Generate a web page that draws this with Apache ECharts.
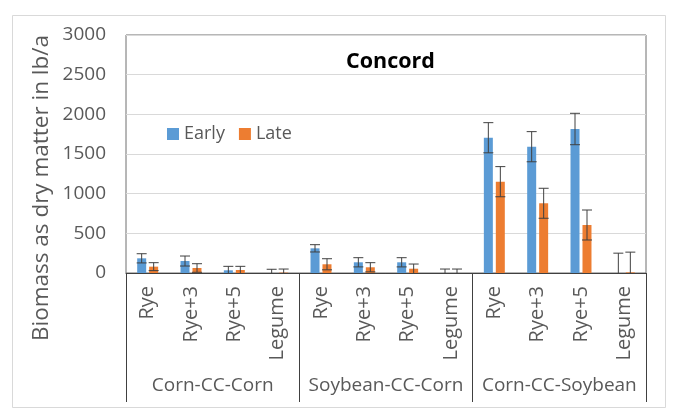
<!DOCTYPE html>
<html>
<head>
<meta charset="utf-8">
<script src="https://cdn.jsdelivr.net/npm/echarts@6/dist/echarts.min.js"></script>
<style>
  html, body { margin: 0; padding: 0; background: #fff; }
  #chart { width: 678px; height: 409px; }
</style>
</head>
<body>
<div id="chart"></div>
<script>
// Rotation systems and cover-crop treatments
const groups = ['Corn-CC-Corn', 'Soybean-CC-Corn', 'Corn-CC-Soybean'];
const categories = [
  'Rye', 'Rye+3', 'Rye+5', 'Legume',
  'Rye', 'Rye+3', 'Rye+5', 'Legume',
  'Rye', 'Rye+3', 'Rye+5', 'Legume'
];

// Biomass (lb/a) for early and late termination, with error half-widths
const earlyValues = [185, 151, 34, 0, 311, 135, 135, 0, 1705, 1592, 1815, 0];
const lateValues = [80, 63, 38, 5, 110, 72, 54, 0, 1151, 879, 605, 8];
const earlyErrors = [58, 63, 50, 47, 46, 58, 58, 50, 190, 190, 198, 250];
const lateErrors = [50, 54, 46, 45, 70, 58, 59, 50, 190, 189, 189, 255];

const yTicks = { min: 0, max: 3000, interval: 500 };

const textColor = '#595959';
const font = 'Open Sans';

function errorSeries(name, values, errors, dx) {
  return {
    type: 'custom',
    name: name + ' error',
    xAxisIndex: 0,
    z: 5,
    data: values.map((v, i) => [i, v, errors[i]]),
    renderItem: function (params, api) {
      const idx = api.value(0);
      const v = api.value(1);
      const e = api.value(2);
      const hi = v + e;
      const lo = Math.max(0, v - e);
      const top = api.coord([idx, hi]);
      const bot = api.coord([idx, lo]);
      const x = top[0] + dx;
      const cap = 5;
      const style = { stroke: '#404040', lineWidth: 1 };
      const children = [
        { type: 'line', shape: { x1: x, y1: top[1], x2: x, y2: bot[1] }, style: style },
        { type: 'line', shape: { x1: x - cap, y1: top[1], x2: x + cap, y2: top[1] }, style: style }
      ];
      if (v - e > 0) {
        children.push({ type: 'line', shape: { x1: x - cap, y1: bot[1], x2: x + cap, y2: bot[1] }, style: style });
      }
      return { type: 'group', children: children };
    },
    tooltip: { show: false },
    silent: true
  };
}

const chart = echarts.init(document.getElementById('chart'), null, { renderer: 'canvas' });

chart.setOption({
  animation: false,
  backgroundColor: '#ffffff',
  textStyle: { fontFamily: font },
  title: {
    text: 'Concord',
    left: 341,
    top: 46,
    textStyle: { fontFamily: font, fontSize: 21.5, fontWeight: 'bold', color: '#000' }
  },
  legend: {
    data: ['Early', 'Late'],
    left: 162,
    top: 120,
    icon: 'rect',
    itemWidth: 12,
    itemHeight: 12,
    itemGap: 14,
    textStyle: { fontFamily: font, fontSize: 18, color: textColor }
  },
  grid: {
    left: 126,
    right: 32,
    top: 35,
    bottom: 136,
    show: true,
    borderColor: '#6e6e6e',
    borderWidth: 1
  },
  xAxis: [
    {
      type: 'category',
      data: categories,
      position: 'bottom',
      axisLine: { lineStyle: { color: '#404040', width: 1 } },
      axisTick: { show: false },
      axisLabel: {
        interval: 0,
        rotate: 90,
        margin: 13,
        fontFamily: font,
        fontSize: 20,
        color: textColor
      }
    },
    {
      type: 'category',
      data: groups,
      position: 'bottom',
      axisLine: { show: false },
      axisTick: {
        show: true,
        interval: 0,
        length: 129,
        lineStyle: { color: '#404040', width: 1 }
      },
      axisLabel: {
        interval: 0,
        margin: 103,
        fontFamily: font,
        fontSize: 19,
        color: textColor
      }
    }
  ],
  yAxis: {
    type: 'value',
    min: yTicks.min,
    max: yTicks.max,
    interval: yTicks.interval,
    axisLine: { show: false },
    axisTick: { show: false },
    splitLine: { lineStyle: { color: '#d9d9d9', width: 1 } },
    axisLabel: {
      margin: 20,
      fontFamily: font,
      fontSize: 19,
      color: textColor,
      formatter: function (v) { return String(v); }
    }
  },
  graphic: [
    {
      type: 'rect',
      shape: { x: 12.5, y: 15.5, width: 653, height: 392 },
      style: { fill: 'none', stroke: '#d9d9d9', lineWidth: 1 },
      silent: true,
      z: -1
    },
    {
      type: 'text',
      x: 42,
      y: 188,
      rotation: Math.PI / 2,
      style: {
        text: 'Biomass as dry matter in lb/a',
        fontFamily: font,
        fontSize: 22.5,
        fill: textColor,
        align: 'center',
        verticalAlign: 'middle'
      }
    }
  ],
  series: [
    {
      name: 'Early',
      type: 'bar',
      xAxisIndex: 0,
      data: earlyValues,
      barWidth: 9,
      barGap: '33%',
      itemStyle: { color: '#5b9bd5' }
    },
    {
      name: 'Late',
      type: 'bar',
      xAxisIndex: 0,
      data: lateValues,
      barWidth: 9,
      barGap: '33%',
      itemStyle: { color: '#ed7d31' }
    },
    errorSeries('Early', earlyValues, earlyErrors, -6),
    errorSeries('Late', lateValues, lateErrors, 6)
  ]
});
</script>
</body>
</html>
